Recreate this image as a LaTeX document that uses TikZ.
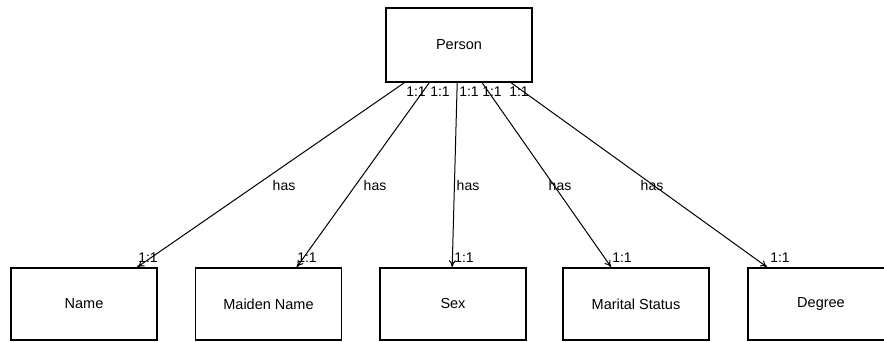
\documentclass[tikz,border=0pt]{standalone}
\usepackage{fontspec}
\setmainfont{Liberation Sans}
\usetikzlibrary{arrows.meta}
\begin{document}
\begin{tikzpicture}[x=1pt,y=-1pt,
  entity/.style={draw,line width=1.6pt,minimum width=146pt,inner sep=0pt,font=\fontsize{14.5}{16}\selectfont},
  rel/.style={line width=1pt,-{To[length=7pt,width=7pt,line width=1pt]}},
  lbl/.style={inner sep=0pt,font=\fontsize{14}{15}\selectfont}]
\useasboundingbox (0,0) rectangle (884,341);
\clip (0,0) rectangle (884,341);
\fill[white] (0,0) rectangle (884,341);

% entity boxes
\node[entity,minimum height=74pt] (person) at (459,45) {Person};
\node[entity,minimum height=72pt] (name)    at (84,304)    {Name};
\node[entity,minimum height=72pt] (maiden)  at (268.5,304) {Maiden Name};
\node[entity,minimum height=72pt] (sex)     at (453,304)   {Sex};
\node[entity,minimum height=72pt] (marital) at (636,304)   {Marital Status};
\node[entity,minimum height=72pt] (degree)  at (821,304)   {Degree};

% relationships
\draw[rel] ([xshift=19pt]person.south west)  -- ([xshift=127pt]name.north west);
\draw[rel] ([xshift=44pt]person.south west)  -- ([xshift=102pt]maiden.north west);
\draw[rel] ([xshift=72pt]person.south west)  -- ([xshift=73pt]sex.north west);
\draw[rel] ([xshift=97pt]person.south west)  -- ([xshift=49pt]marital.north west);
\draw[rel] ([xshift=126pt]person.south west) -- ([xshift=20pt]degree.north west);

% cardinalities at the Person end
\node[lbl] (c1) at (416,92) {1:1};
\node[lbl] (c2) at (440,92) {1:1};
\node[lbl] (c3) at (469,92) {1:1};
\node[lbl] (c4) at (492,92) {1:1};
\node[lbl] (c5) at (519,92) {1:1};

% relationship names
\node[lbl] (h1) at (284,185) {has};
\node[lbl] (h2) at (375,185) {has};
\node[lbl] (h3) at (468,185) {has};
\node[lbl] (h4) at (560,185) {has};
\node[lbl] (h5) at (652,185) {has};

% cardinalities at the attribute end
\node[lbl] (e1) at (148,258) {1:1};
\node[lbl] (e2) at (307,258) {1:1};
\node[lbl] (e3) at (464,258) {1:1};
\node[lbl] (e4) at (622,258) {1:1};
\node[lbl] (e5) at (780,258) {1:1};
\end{tikzpicture}
\end{document}
